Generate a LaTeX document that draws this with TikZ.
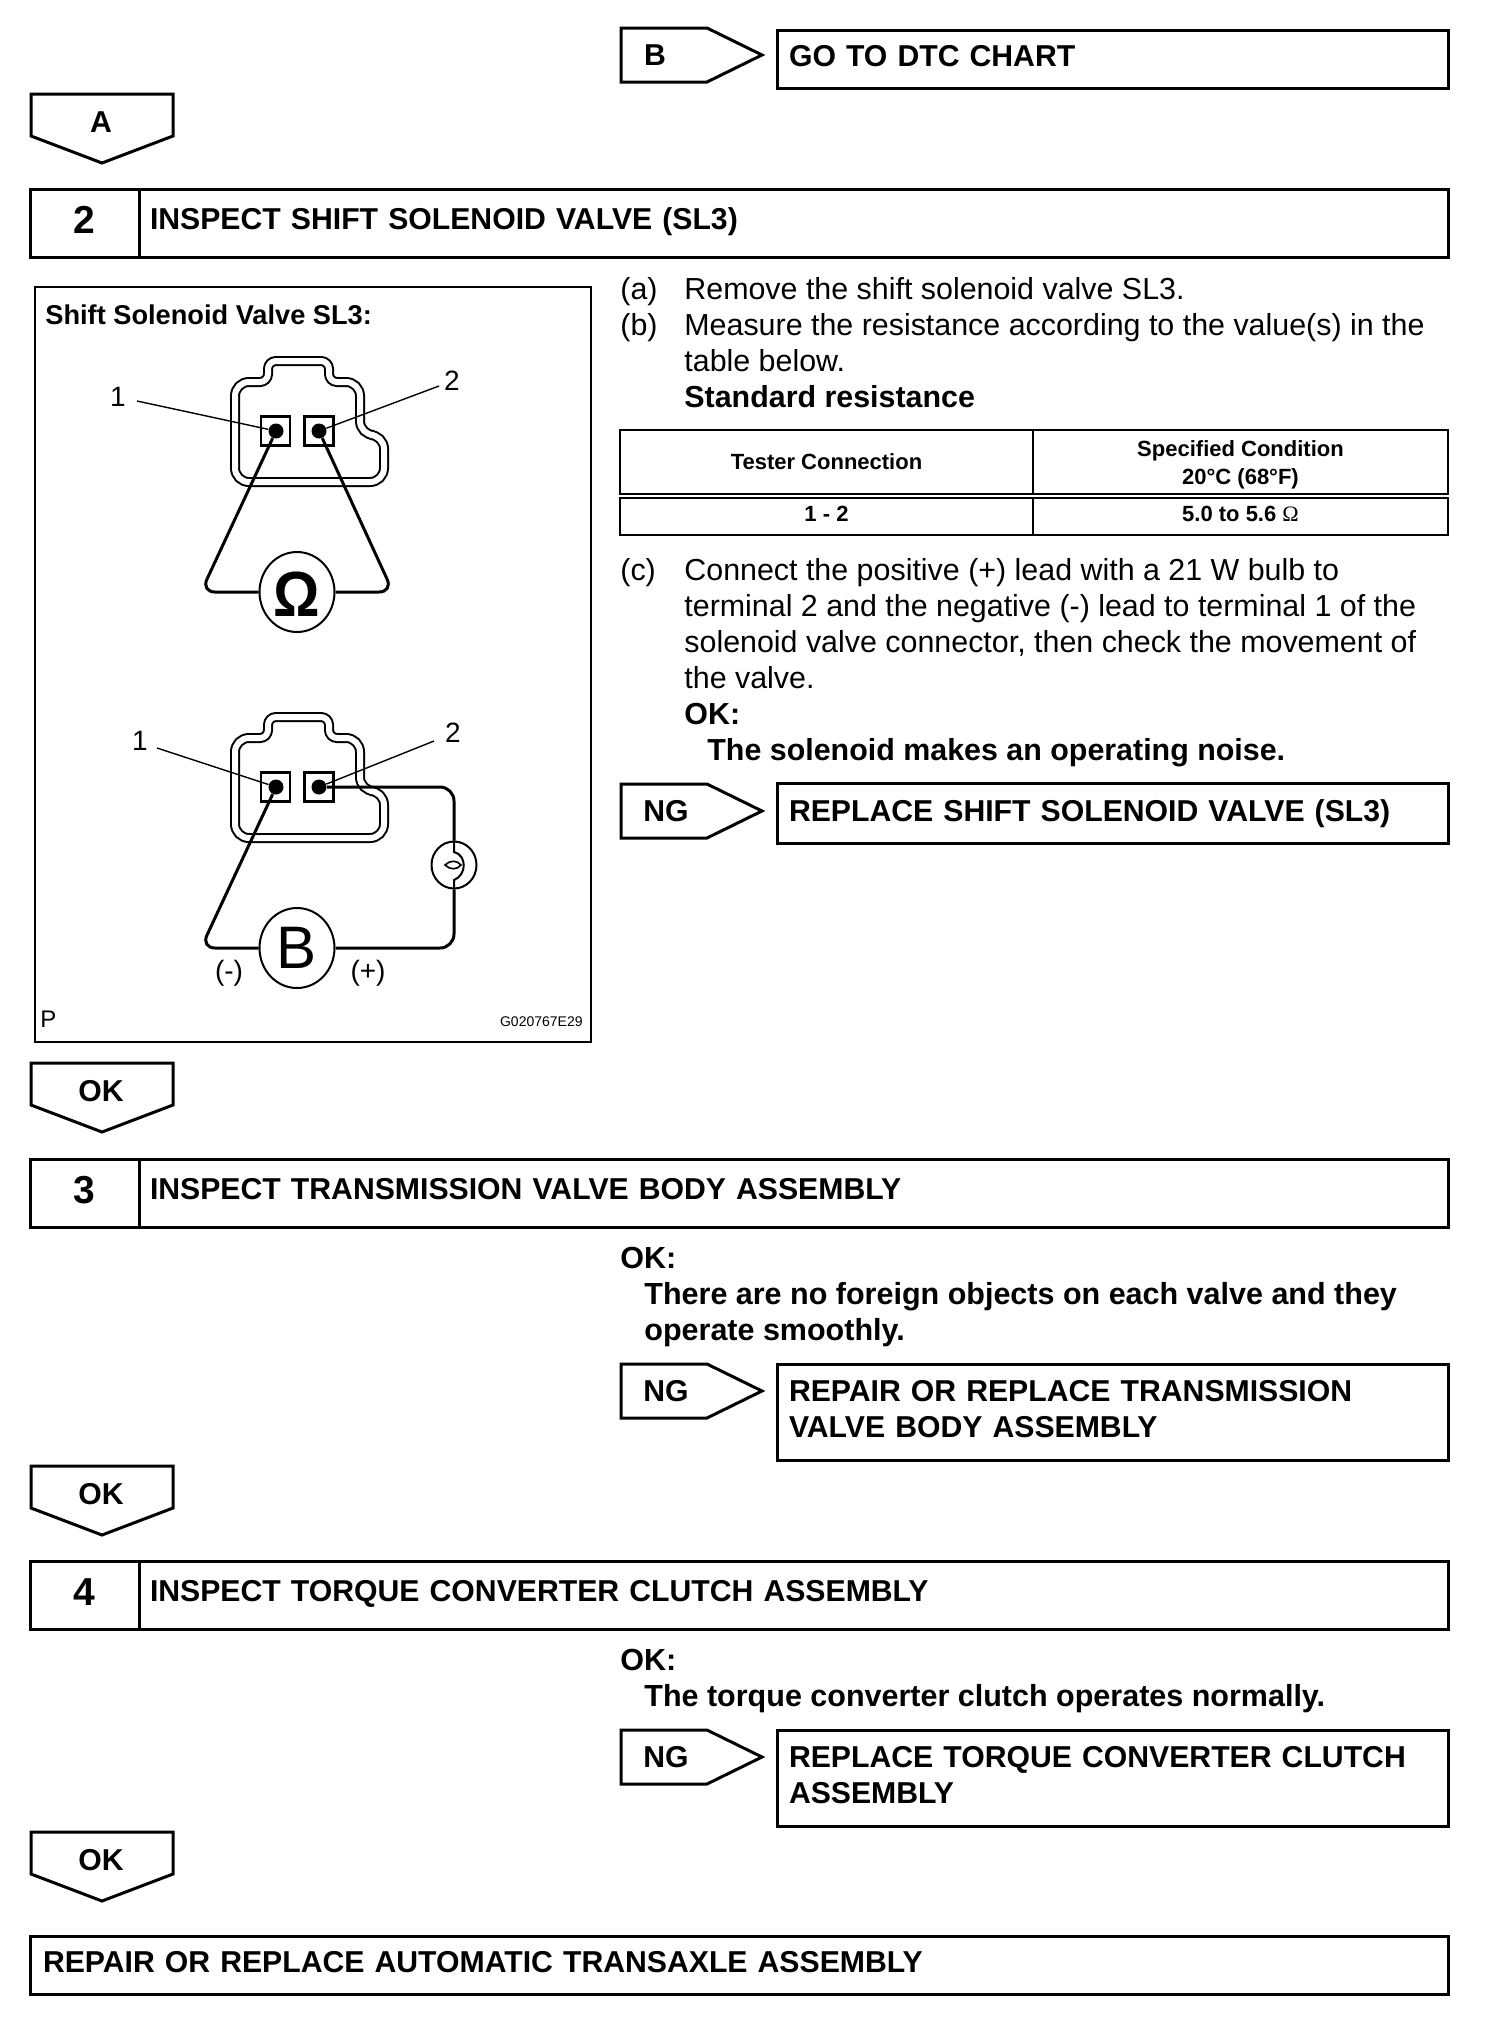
\documentclass[tikz,border=0pt]{standalone}
\usepackage{fontspec}
\setmainfont{Liberation Sans}
\newfontfamily\symfont{Liberation Serif}
\usetikzlibrary{positioning,shapes.geometric}
\begin{document}
\begin{tikzpicture}[
      x=0.5pt, y=-0.5pt,
      font=\fontsize{15.2}{18}\selectfont,
      boxline/.style={draw=black, line width=1.5pt},
      numbox/.style={boxline, outer sep=0pt, inner sep=0pt, minimum width=54.5pt, minimum height=34pt,
                     text height=14pt, text depth=4pt, font=\fontsize{19.5}{22}\selectfont\bfseries},
      titlebox/.style={boxline, outer sep=0pt, inner xsep=5.5pt, inner ysep=0pt, text width=643.5pt,
                     minimum height=34pt, text height=10.8pt, text depth=4pt, align=left,
                     font=\fontsize{15.1}{18}\selectfont\bfseries},
      resultbox/.style={boxline, outer sep=0pt, inner xsep=6pt, inner ysep=0pt, text width=323.5pt,
                     text depth=2.8pt, anchor=north west, align=left, font=\fontsize{15.1}{18}\selectfont\bfseries},
      taglabel/.style={inner sep=0pt, anchor=base, font=\fontsize{15.1}{18}\selectfont\bfseries},
      para/.style={inner sep=0pt, anchor=north west, align=left},
      boldpara/.style={para, font=\fontsize{15.25}{18}\selectfont\bfseries},
      cell/.style={draw=black, line width=1pt, outer sep=0pt, inner sep=0pt, anchor=north west, align=center,
                   font=\fontsize{11}{14.3}\selectfont\bfseries},
      term/.style={draw=black, line width=1.2pt, fill=white, minimum width=14.5pt, minimum height=14.5pt, inner sep=0pt},
      termdot/.style={circle, fill=black, minimum size=7.5pt, inner sep=0pt},
      wire/.style={line width=1.5pt, rounded corners=7pt},
      leader/.style={line width=0.7pt},
      dial/.style={ellipse, draw=black, line width=1pt, fill=white, minimum width=37.5pt, minimum height=40pt, inner sep=0pt},
      pinlabel/.style={inner sep=0pt, font=\fontsize{14}{16}\selectfont}
    ]
    \useasboundingbox (0,0) rectangle (1504,2034);

    % tags that point down
    \foreach \ty/\lbl in {94/A, 1063/OK, 1466/OK, 1832/OK} {
      \draw[line width=1.5pt, line join=miter] (31,\ty) -- (173,\ty) -- (173,\ty+42) -- (102,\ty+69) -- (31,\ty+42) -- cycle;
      \node[taglabel] (tag\ty) at (101,\ty+38) {\lbl};
    }
    % tags that point right
    \foreach \ty/\lbl/\tx in {28/B/655, 784/NG/666, 1364/NG/666, 1730/NG/666} {
      \draw[line width=1.5pt, line join=miter] (621,\ty) -- (707,\ty) -- (762,\ty+27) -- (707,\ty+54) -- (621,\ty+54) -- cycle;
      \node[taglabel] (tag\ty) at (\tx,\ty+37) {\lbl};
    }

    % step headers
    \foreach \ty/\num/\title in {189/2/{INSPECT SHIFT SOLENOID VALVE (SL3)},
                                 1159/3/{INSPECT TRANSMISSION VALVE BODY ASSEMBLY},
                                 1561/4/{INSPECT TORQUE CONVERTER CLUTCH ASSEMBLY}} {
      \node[numbox, anchor=north west] (num\num) at (30,\ty) {\num};
      \node[titlebox, right=0pt of num\num] (title\num) {\title};
    }

    % result boxes
    \node[resultbox, minimum height=29pt] (gotochart) at (777,30) {GO TO DTC CHART};
    \node[resultbox, minimum height=30pt] (replacevalve) at (777,783) {REPLACE SHIFT SOLENOID VALVE (SL3)};
    \node[resultbox, minimum height=48pt, text depth=20.8pt] (repairbody) at (777,1364) {REPAIR OR REPLACE TRANSMISSION\\VALVE BODY ASSEMBLY};
    \node[resultbox, minimum height=48pt, text depth=20.8pt] (replaceclutch) at (777,1730) {REPLACE TORQUE CONVERTER CLUTCH\\ASSEMBLY};
    \node[resultbox, minimum height=29pt, inner xsep=6.5pt, text width=696pt] (transaxle) at (30,1936) {REPAIR OR REPLACE AUTOMATIC TRANSAXLE ASSEMBLY};

    % instructions
    \node[para] (stepa) at (620,277.5) {(a)};
    \node[para] (stepatext) at (684,277.5) {Remove the shift solenoid valve SL3.};
    \node[para] (stepb) at (620,313.5) {(b)};
    \node[para] (stepbtext) at (684,313.5) {Measure the resistance according to the value(s) in the\\table below.\\\textbf{Standard resistance}};
    \node[para] (stepc) at (620,558.5) {(c)};
    \node[para] (stepctext) at (684,558.5) {Connect the positive (+) lead with a 21 W bulb to\\terminal 2 and the negative (-) lead to terminal 1 of the\\solenoid valve connector, then check the movement of\\the valve.\\\textbf{OK:}\\\hspace*{11.5pt}\textbf{The solenoid makes an operating noise.}};
    \node[boldpara] (okbody) at (620,1246.5) {OK:\\\hspace*{12pt}There are no foreign objects on each valve and they\\\hspace*{12pt}operate smoothly.};
    \node[boldpara] (okclutch) at (620,1648.5) {OK:\\\hspace*{12pt}The torque converter clutch operates normally.};

    % table
    \node[cell, minimum width=206.5pt, minimum height=32pt] (headconn) at (620,430) {Tester Connection};
    \node[cell, minimum width=207.5pt, minimum height=32pt, text height=25pt] (headcond) at (1033,430) {Specified Condition\\20°C (68°F)};
    \node[cell, minimum width=206.5pt, minimum height=18.5pt, text depth=2.6pt] (valconn) at (620,498) {1 - 2};
    \node[cell, minimum width=207.5pt, minimum height=18.5pt, text depth=2.6pt] (valcond) at (1033,498) {5.0 to 5.6 {\symfont\mdseries Ω}};

    % figure frame
    \node[draw=black, line width=1pt, outer sep=0pt, inner sep=0pt, anchor=north west, minimum width=278pt, minimum height=377.5pt] (frame) at (35,287) {};
    \node[inner sep=0pt, anchor=base west, font=\fontsize{13.6}{16}\selectfont\bfseries] (frametitle) at (45,324) {Shift Solenoid Valve SL3:};

    % the two connector drawings
    \foreach \dy/\n in {0/A, 356/B} {
      \draw[draw=black, line width=1pt, double=white, double distance=3pt, rounded corners=7pt]
        (235,\dy+430) -- (235,\dy+382) [rounded corners=4pt] -- (268,\dy+382) -- (268,\dy+361) -- (329,\dy+361) -- (329,\dy+382)
        [rounded corners=7pt] -- (360,\dy+382) -- (360,\dy+435) -- (384,\dy+435) -- (384,\dy+482) -- (235,\dy+482) -- cycle;
      \node[term] (termone\n) at (275.5,\dy+431) {};
      \node[term] (termtwo\n) at (319,\dy+431) {};
      \node[termdot] (dotone\n) at (276,\dy+431) {};
      \node[termdot] (dottwo\n) at (319,\dy+431) {};
      \node[dial] (dial\n) at (297,\dy+592) {};
    }

    % first drawing
    \node[pinlabel] (labelone) at (118,397) {1};
    \node[pinlabel] (labeltwo) at (452,381) {2};
    \coordinate (leadoneA) at (137,401);
    \coordinate (leadtwoA) at (439,386);
    \coordinate (turnleftA) at (201,592);
    \coordinate (turnrightA) at (393,592);
    \draw[leader] (leadoneA) -- (dotoneA);
    \draw[leader] (leadtwoA) -- (dottwoA);
    \draw[wire] (dotoneA) -- (turnleftA) -- (dialA);
    \draw[wire] (dottwoA) -- (turnrightA) -- (dialA);
    \node[inner sep=0pt, yscale=1.1, font=\fontsize{29}{32}\selectfont\bfseries] (ohm) at (297,594) {Ω};

    % second drawing
    \node[pinlabel] (labeloneB) at (140,741) {1};
    \node[pinlabel] (labeltwoB) at (453,733) {2};
    \coordinate (leadoneB) at (157,748);
    \coordinate (leadtwoB) at (434,741);
    \coordinate (turnleftB) at (201,948);
    \coordinate (turnbulbB) at (454,787);
    \coordinate (turnrightB) at (454,948);
    \node[dial, minimum width=22.5pt, minimum height=23.5pt] (bulb) at (454,865) {};
    \draw[leader] (leadoneB) -- (dotoneB);
    \draw[leader] (leadtwoB) -- (dottwoB);
    \draw[wire] (dotoneB) -- (turnleftB) -- (dialB);
    \draw[wire] (dottwoB) -- (turnbulbB) -- (bulb);
    \draw[wire] (bulb) -- (turnrightB) -- (dialB);
    \draw[line width=1pt] (bulb.north) -- (454,852) .. controls (467,855) and (467,875) .. (454,880) -- (bulb.south);
    \draw[line width=0.8pt] (445,865) .. controls (450,860) and (457,860) .. (461,865) .. controls (457,870) and (450,870) .. (445,865) -- cycle;
    \node[inner sep=0pt, font=\fontsize{30}{34}\selectfont] (batt) at (dialB) {B};
    \node[pinlabel] (minus) at (229,973) {(-)};
    \node[pinlabel] (plus) at (368,973) {(+)};
    \node[inner sep=0pt, anchor=base west, font=\fontsize{12}{14}\selectfont] (pmark) at (40,1027) {P};
    \node[inner sep=0pt, anchor=base east, font=\fontsize{7}{9}\selectfont] (figcode) at (583,1026) {G020767E29};
\end{tikzpicture}
\end{document}
